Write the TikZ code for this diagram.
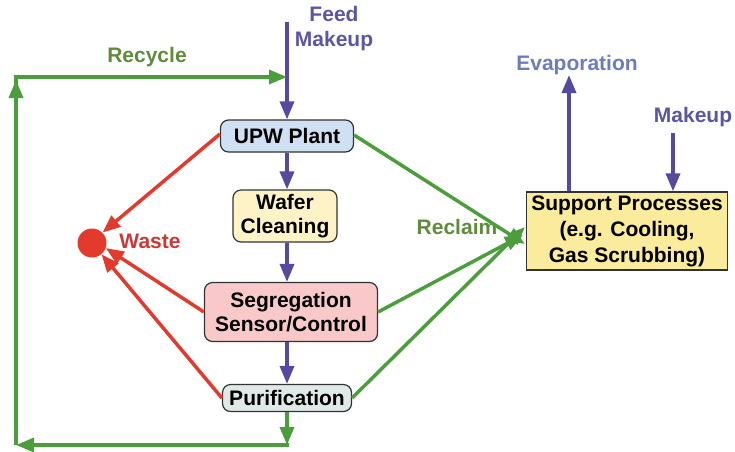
\documentclass[tikz,border=0pt]{standalone}
\usepackage{fontspec}
\setmainfont{Liberation Sans}
\usetikzlibrary{arrows.meta,positioning}
\definecolor{flowblue}{HTML}{554A9E}
\definecolor{txtblue}{HTML}{5B55A3}
\definecolor{evapblue}{HTML}{6B7DBE}
\definecolor{flowgreen}{HTML}{4C9E3C}
\definecolor{txtgreen}{HTML}{5E8C3C}
\definecolor{flowred}{HTML}{E23A2C}
\definecolor{txtred}{HTML}{C83A38}
\definecolor{upwfill}{HTML}{CFE0F2}
\definecolor{waferfill}{HTML}{FDF3C6}
\definecolor{segfill}{HTML}{F8C9C8}
\definecolor{purfill}{HTML}{DFE9E8}
\definecolor{supfill}{HTML}{FBEB9C}
\tikzset{
  every node/.style={font=\fontsize{21}{24}\selectfont\bfseries},
  proc/.style={draw=black!80, line width=1.2pt, rounded corners=8pt, align=center, inner sep=0pt},
  flowarrow/.style={line width=3.5pt, -{Triangle[length=18pt,width=14pt]}},
  plain/.style={line width=3.5pt},
  lbl/.style={align=center, inner sep=0pt}
}
\begin{document}
\begin{tikzpicture}[x=1pt,y=-1pt]
\useasboundingbox (0,0) rectangle (735,451);
% nodes
\node[proc, fill=upwfill, minimum width=133pt, minimum height=32pt] (upw) at (287,136) {UPW Plant};
\node[proc, fill=waferfill, minimum width=104pt, minimum height=52pt] (wafer) at (285,216) {Wafer\\Cleaning};
\node[proc, fill=segfill, minimum width=173pt, minimum height=59pt] (seg) at (291,312) {Segregation\\Sensor/Control};
\node[proc, fill=purfill, minimum width=129pt, minimum height=27pt] (pur) at (287,398) {Purification};
\node[draw=black!80, line width=1.2pt, fill=supfill, align=center, inner sep=0pt, minimum width=201pt, minimum height=78pt, font=\fontsize{21}{26}\selectfont\bfseries] (sup) at (627,231) {Support Processes\\(e.g. Cooling,\\Gas Scrubbing)};
\node[circle, fill=flowred, minimum size=29pt, inner sep=0pt] (waste) at (92,243) {};
% labels
\node[lbl, text=txtblue, font=\fontsize{21}{25}\selectfont\bfseries] (feedlbl) at (334,29) {Feed\\Makeup};
\node[lbl, text=txtgreen] (recyclbl) at (147,57) {Recycle};
\node[lbl, text=evapblue] (evaplbl) at (577,65) {Evaporation};
\node[lbl, text=txtblue] (makelbl) at (693,117) {Makeup};
\node[lbl, text=txtgreen] (reclbl) at (457,227) {Reclaim};
\node[lbl, text=txtred] (wastelbl) at (150,241) {Waste};
% coordinates
\coordinate (feedtop) at (287,22);
\coordinate (tr) at (287,77);
\coordinate (tl) at (16,77);
\coordinate (bl) at (16,445);
\coordinate (br) at (287,445);
\coordinate (evaptop) at (569,75);
\coordinate (maketop) at (673,133);
% blue flows
\draw[flowblue, flowarrow] (feedtop) -- (feedtop |- upw.north);
\draw[flowblue, flowarrow] (upw.south) -- (upw.south |- wafer.north);
\draw[flowblue, flowarrow] (upw.south |- wafer.south) -- (upw.south |- seg.north);
\draw[flowblue, flowarrow] (upw.south |- seg.south) -- (upw.south |- pur.north);
\draw[flowblue, flowarrow] (sup.north -| evaptop) -- (evaptop);
\draw[flowblue, flowarrow] (maketop) -- (sup.north -| maketop);
% green recycle loop
\draw[flowgreen, flowarrow] (pur.south) -- (br);
\draw[flowgreen, flowarrow] ([xshift=1.75pt]br) -- (bl);
\draw[flowgreen, plain] ([yshift=1.75pt]bl) -- ([yshift=-1.75pt]tl);
\draw[flowgreen, flowarrow] (bl) -- ([yshift=-3pt]tl);
\draw[flowgreen, flowarrow] ([xshift=-1.75pt]tl) -- (tr);
% green reclaim
\draw[flowgreen, flowarrow] ([yshift=1pt]upw.east) -- ([xshift=-1pt,yshift=-13pt]sup.west);
\draw[flowgreen, flowarrow] (seg.east) -- ([xshift=-3pt,yshift=-4pt]sup.west);
\draw[flowgreen, flowarrow] (pur.east) -- ([xshift=-1pt,yshift=4pt]sup.west);
% red waste
\draw[flowred, flowarrow] ([yshift=2pt]upw.west) -- (waste.45);
\draw[flowred, flowarrow] (seg.west) -- (waste.-20);
\draw[flowred, flowarrow] (pur.west) -- (waste.-50);
\end{tikzpicture}
\end{document}
